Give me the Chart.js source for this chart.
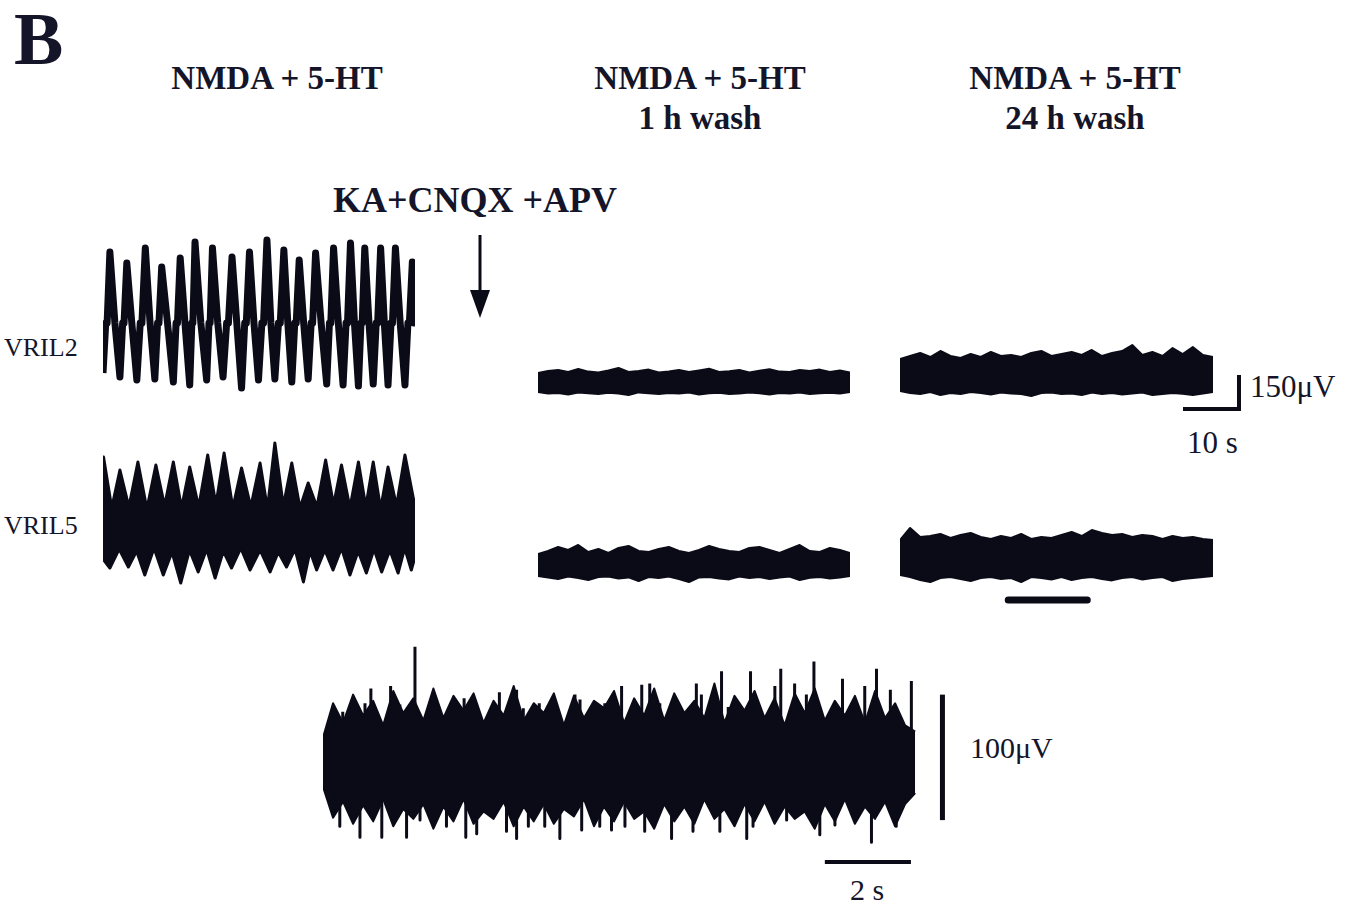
<!DOCTYPE html>
<html>
<head>
<meta charset="utf-8">
<script src="https://cdn.jsdelivr.net/npm/chart.js@4.4.1/dist/chart.umd.min.js"></script>
<style>
body { margin: 0; background: #fff; width: 1359px; height: 906px; position: relative; overflow: hidden;
       font-family: "Liberation Serif", "DejaVu Serif", serif; color: #15152a; }
.t { position: absolute; white-space: nowrap; line-height: 1; }
.bold { font-weight: bold; }
.c { text-align: center; }
.trace { position: absolute; }
</style>
</head>
<body>
<div class="t bold" style="left:14px;top:2px;font-size:74px;">B</div>

<div class="t bold c" style="left:127px;top:62px;width:300px;font-size:33px;">NMDA + 5-HT</div>
<div class="t bold c" style="left:550px;top:62px;width:300px;font-size:33px;">NMDA + 5-HT</div>
<div class="t bold c" style="left:550px;top:102px;width:300px;font-size:33px;">1 h wash</div>
<div class="t bold c" style="left:925px;top:62px;width:300px;font-size:33px;">NMDA + 5-HT</div>
<div class="t bold c" style="left:925px;top:102px;width:300px;font-size:33px;">24 h wash</div>

<div class="t bold" style="left:333px;top:182px;font-size:36px;">KA+CNQX +APV</div>
<svg style="position:absolute;left:465px;top:232px" width="30" height="90">
  <line x1="15" y1="3" x2="15" y2="62" stroke="#0b0b18" stroke-width="3"/>
  <polygon points="5,58 25,58 15,86" fill="#0b0b18"/>
</svg>

<div class="t" style="left:4px;top:335px;font-size:26px;">VRIL2</div>
<div class="t" style="left:4px;top:513px;font-size:26px;">VRIL5</div>

<div class="t" style="left:1250px;top:371px;font-size:31px;">150μV</div>
<div class="t" style="left:1187px;top:427px;font-size:31px;">10 s</div>
<div class="t" style="left:970px;top:733px;font-size:30px;">100μV</div>
<div class="t" style="left:850px;top:875px;font-size:30px;">2 s</div>

<div class="trace" id="burst2"><canvas></canvas></div>
<div class="trace" id="burst5"><canvas></canvas></div>
<div class="trace" id="wash1v2"><canvas></canvas></div>
<div class="trace" id="wash24v2"><canvas></canvas></div>
<div class="trace" id="wash1v5"><canvas></canvas></div>
<div class="trace" id="wash24v5"><canvas></canvas></div>
<div class="trace" id="scale10s"><canvas></canvas></div>
<div class="trace" id="expanded"><canvas></canvas></div>

<script>
/**
 * Ventral root recordings (time in s, amplitude in µV)
 */

// VRIL2, NMDA + 5-HT: cycle peaks and troughs
const v2PeakT = [1.3, 4.5, 8.0, 11.1, 14.6, 17.4, 20.7, 24.4, 27.7, 31.0, 34.2, 37.1, 40.2, 43.6, 46.8, 49.5, 52.5, 55.3, 58.5];
const v2PeakV = [315, 260, 335, 240, 285, 365, 335, 290, 315, 375, 325, 275, 310, 335, 360, 335, 335, 335, 265];
const v2TroughT = [0, 3.2, 6.4, 9.8, 13.3, 16.4, 19.6, 22.7, 26.2, 29.4, 32.5, 35.7, 38.8, 42.3, 45.4, 48.3, 51.1, 53.9, 57.1];
const v2TroughV = [-290, -310, -325, -320, -335, -350, -325, -310, -365, -325, -320, -335, -320, -345, -350, -355, -345, -350, -350];
const v2Plateau = -40;
const v2End = [59, 10];

// VRIL5, NMDA + 5-HT: spikes above and below the tonic band
const v5PeakT = [0.1, 3.2, 6.6, 10.0, 13.3, 16.4, 19.8, 22.9, 26.2, 29.7, 32.5, 35.7, 38.8, 42.1, 45.1, 48.3, 51.1, 53.9, 57.1];
const v5PeakV = [350, 285, 325, 310, 325, 300, 360, 370, 295, 320, 420, 320, 220, 335, 310, 325, 325, 300, 360];
const v5TopV = [95, 100, 90, 105, 95, 100, 110, 95, 100, 90, 105, 95, 100, 110, 95, 100, 90, 105];
const v5TroughT = [1.3, 4.8, 7.9, 11.4, 14.7, 18.0, 21.2, 24.3, 27.8, 31.6, 34.7, 37.9, 40.4, 43.5, 46.7, 49.8, 52.7, 55.8, 58.3];
const v5TroughV = [-205, -200, -240, -240, -280, -225, -255, -205, -215, -225, -200, -275, -215, -215, -240, -230, -225, -230, -215];
const v5BottomV = [-110, -120, -105, -125, -115, -110, -120, -105, -115, -125, -110, -120, -115, -105, -120, -110, -115, -105];

// after KA + CNQX + APV: noise band edges, 0-59 s
const wash1V2Upper = [45, 55, 60, 50, 65, 52, 48, 58, 70, 50, 55, 62, 48, 52, 60, 50, 58, 66, 50, 54, 60, 48, 56, 64, 52, 50, 60, 55, 62, 50, 58, 48];
const wash1V2Lower = [-50, -58, -55, -62, -52, -56, -60, -54, -58, -65, -52, -56, -60, -55, -58, -52, -62, -56, -54, -60, -58, -52, -56, -62, -55, -58, -52, -60, -56, -54, -58, -50];
const wash24V2Upper = [80, 95, 110, 90, 120, 95, 85, 105, 90, 115, 95, 100, 90, 110, 120, 95, 105, 115, 100, 125, 95, 110, 120, 150, 100, 115, 95, 135, 105, 140, 100, 90];
const wash24V2Lower = [-80, -90, -95, -85, -100, -90, -95, -85, -90, -98, -88, -92, -95, -105, -90, -88, -95, -92, -100, -88, -95, -90, -98, -92, -88, -100, -95, -90, -94, -100, -92, -85];
const wash1V5Upper = [55, 70, 90, 75, 100, 65, 80, 60, 85, 95, 70, 65, 80, 90, 70, 60, 75, 95, 80, 70, 65, 85, 90, 75, 60, 80, 100, 70, 65, 85, 75, 60];
const wash1V5Lower = [-55, -62, -70, -58, -65, -75, -60, -58, -68, -62, -80, -60, -65, -58, -70, -85, -62, -60, -68, -72, -58, -65, -60, -70, -62, -58, -75, -64, -60, -68, -62, -55];
const wash24V5Upper = [90, 150, 105, 110, 120, 100, 115, 125, 105, 95, 110, 100, 120, 95, 105, 100, 115, 130, 110, 140, 125, 115, 120, 105, 115, 110, 95, 110, 100, 105, 95, 90];
const wash24V5Lower = [-85, -95, -110, -120, -100, -95, -105, -115, -100, -95, -105, -100, -120, -95, -100, -108, -95, -110, -100, -95, -105, -112, -100, -95, -108, -100, -95, -115, -105, -100, -95, -90];
const expandedSpan = [20.4, 35.3];   // stretch shown below, s

// expanded 24 h wash VRIL5 (0-14.1 s): ragged edges of the dense band, then isolated spikes
const expUpper = [10, 38, 22, 45, 28, 40, 20, 48, 30, 42, 24, 50, 26, 44, 32, 46, 22, 40, 28, 52, 24, 38, 30, 46, 20, 44, 26, 40, 34, 48,
                  22, 42, 28, 50, 24, 46, 30, 40, 26, 54, 22, 44, 32, 48, 26, 42, 20, 46, 30, 50, 24, 40, 28, 44, 22, 48, 26, 38, 20, 15];
const expLower = [-30, -55, -42, -60, -45, -58, -40, -62, -48, -56, -44, -64, -46, -58, -40, -60, -50, -56, -42, -62, -46, -58, -44, -60, -48, -54, -40, -62, -46, -58,
                  -42, -56, -50, -64, -44, -58, -46, -60, -40, -56, -48, -62, -44, -58, -42, -60, -46, -56, -50, -64, -44, -58, -40, -60, -46, -56, -42, -62, -44, -35];
const expUpT = [0.12, 0.47, 0.68, 1.00, 1.14, 1.61, 1.83, 2.19, 2.55, 2.69, 3.18, 3.36, 3.58, 4.20, 4.61, 4.77, 5.15, 5.40, 6.00, 6.12, 6.40, 6.71, 6.93, 7.11, 7.59, 7.78, 8.02, 8.89, 9.01, 9.49, 9.65, 9.88, 10.18, 10.32, 10.76, 10.90, 11.23, 11.51, 11.69, 12.37, 12.90, 13.18, 13.51, 14.01];
const expUpV = [12, 31, 35, 38, 50, 52, 37, 84, 39, 39, 39, 42, 39, 47, 49, 34, 38, 35, 45, 41, 30, 38, 38, 52, 53, 54, 38, 54, 45, 64, 35, 39, 64, 39, 52, 66, 54, 45, 72, 58, 52, 66, 49, 56];
const expDownT = [0.40, 0.88, 1.40, 1.99, 2.31, 2.94, 3.40, 3.66, 4.37, 4.61, 4.89, 5.28, 5.64, 6.16, 6.59, 6.87, 7.19, 7.66, 8.30, 8.81, 9.45, 10.09, 10.24, 11.04, 11.83, 12.19, 13.06, 13.65];
const expDownV = [-62, -71, -71, -71, -57, -62, -71, -68, -66, -72, -62, -62, -72, -65, -62, -65, -62, -66, -72, -66, -66, -72, -62, -57, -69, -61, -75, -62];
const expEnd = 14.1;

// calibration bars
const barTime10 = 10, barAmp150 = 150;
const barTime2 = [11.95, 14.0], barAmp100 = [-57, 45], barAmp100T = 14.75;

const INK = '#0b0b18';

function evenly(values, t0, t1) {
    return values.map((v, i) => ({ x: t0 + (t1 - t0) * i / (values.length - 1), y: v }));
}

function band(upper, lower, t0, t1) {
    return [
        { data: evenly(upper, t0, t1), fill: { value: 0 }, borderWidth: 2 },
        { data: evenly(lower, t0, t1), fill: { value: 0 }, borderWidth: 2 }
    ];
}

function burstLine() {
    const pts = [];
    for (let i = 0; i < v2PeakT.length; i++) {
        const t0 = v2TroughT[i], tp = v2PeakT[i];
        pts.push({ x: t0, y: v2TroughV[i] });
        pts.push({ x: t0 + (tp - t0) * 0.4, y: v2Plateau });
        pts.push({ x: t0 + (tp - t0) * 0.6, y: v2Plateau });
        pts.push({ x: tp, y: v2PeakV[i] });
        const tn = i + 1 < v2TroughT.length ? v2TroughT[i + 1] : v2End[0];
        pts.push({ x: tp + (tn - tp) * 0.5, y: v2Plateau });
    }
    pts.push({ x: v2End[0], y: v2End[1] });
    return pts;
}

function spikyEdge(tipT, tipV, gapV, start, end) {
    const pts = [{ x: start[0], y: start[1] }];
    for (let i = 0; i < tipT.length; i++) {
        pts.push({ x: tipT[i], y: tipV[i] });
        if (i < gapV.length) pts.push({ x: (tipT[i] + tipT[i + 1]) / 2, y: gapV[i] });
    }
    pts.push({ x: end[0], y: end[1] });
    return pts;
}

function spikes(t, v) {
    const pts = [];
    t.forEach((ti, i) => pts.push({ x: ti, y: 0 }, { x: ti, y: v[i] }, { x: ti, y: null }));
    return pts;
}

// box = [left, top, width, height] of the plot area on the page
function traceChart(id, box, xr, yr, datasets) {
    const pad = 8;
    const wrap = document.getElementById(id);
    const canvas = wrap.querySelector('canvas');
    wrap.style.left = (box[0] - pad) + 'px';
    wrap.style.top = (box[1] - pad) + 'px';
    canvas.width = box[2] + 2 * pad;
    canvas.height = box[3] + 2 * pad;
    datasets.forEach(d => {
        d.borderColor = INK;
        d.backgroundColor = INK;
        d.pointRadius = 0;
        if (d.fill === undefined) d.fill = false;
    });
    return new Chart(canvas, {
        type: 'line',
        data: { datasets: datasets },
        options: {
            animation: false,
            responsive: false,
            events: [],
            layout: { padding: pad },
            plugins: { legend: { display: false }, tooltip: { enabled: false } },
            elements: { line: { tension: 0, borderJoinStyle: 'round' } },
            scales: {
                x: { type: 'linear', display: false, min: xr[0], max: xr[1] },
                y: { type: 'linear', display: false, min: yr[0], max: yr[1] }
            }
        }
    });
}

traceChart('burst2', [103, 235, 312, 160], [0, 59], [-400, 400], [
    { data: burstLine(), borderWidth: 7 }
]);

traceChart('burst5', [103, 437, 312, 160], [0, 59], [-350, 450], [
    { data: spikyEdge(v5PeakT, v5PeakV, v5TopV, [0, 250], [59, 100]), fill: { value: 0 }, borderWidth: 3 },
    { data: spikyEdge(v5TroughT, v5TroughV, v5BottomV, [0, -160], [59, -150]), fill: { value: 0 }, borderWidth: 3 }
]);

traceChart('wash1v2', [538, 352, 312, 60], [0, 59], [-150, 150], band(wash1V2Upper, wash1V2Lower, 0, 59));
traceChart('wash24v2', [900, 335, 313, 80], [0, 59], [-200, 200], band(wash24V2Upper, wash24V2Lower, 0, 59));
traceChart('wash1v5', [538, 535, 312, 60], [0, 59], [-150, 150], band(wash1V5Upper, wash1V5Lower, 0, 59));
traceChart('wash24v5', [900, 518, 313, 92], [0, 59], [-260, 200],
    band(wash24V5Upper, wash24V5Lower, 0, 59).concat([
        { data: [{ x: expandedSpan[0], y: -210 }, { x: expandedSpan[1], y: -210 }], borderWidth: 7, borderCapStyle: 'round' }
    ]));

traceChart('scale10s', [1183, 375, 58, 36], [0, 10.36], [-9, 150], [
    { data: [{ x: 0, y: 0 }, { x: barTime10, y: 0 }, { x: barTime10, y: barAmp150 }], borderWidth: 4, borderJoinStyle: 'miter' }
]);

traceChart('expanded', [323, 640, 627, 225], [0, 14.93], [-93.5, 89.4], [
    { data: evenly(expUpper, 0, expEnd), fill: { value: 0 }, borderWidth: 2 },
    { data: evenly(expLower, 0, expEnd), fill: { value: 0 }, borderWidth: 2 },
    { data: spikes(expUpT, expUpV), borderWidth: 3 },
    { data: spikes(expDownT, expDownV), borderWidth: 3 },
    { data: [{ x: barAmp100T, y: barAmp100[0] }, { x: barAmp100T, y: barAmp100[1] }], borderWidth: 5 },
    { data: [{ x: barTime2[0], y: -91 }, { x: barTime2[1], y: -91 }], borderWidth: 4 }
]);
</script>
</body>
</html>
